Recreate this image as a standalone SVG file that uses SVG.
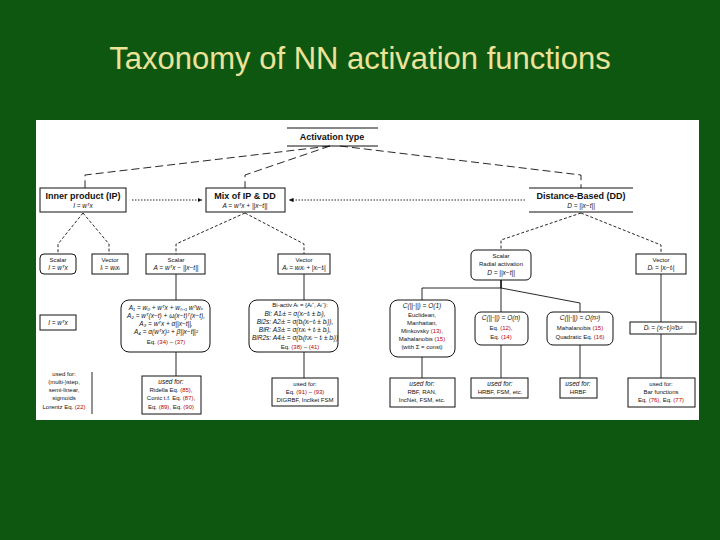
<svg xmlns="http://www.w3.org/2000/svg" width="720" height="540" viewBox="0 0 720 540">
<style>
text{font-family:"Liberation Sans",Arial,sans-serif;fill:#111;text-anchor:middle}
.t{font-size:31px;fill:#ece29a}
.h{font-size:9px;font-weight:bold}
.s{font-size:6px}
.m{font-size:6.5px;font-style:italic}
.b{fill:#fff;stroke:#111;stroke-width:1}
.c line,.c path{stroke:#111;fill:none;stroke-width:0.9}
.d{stroke-dasharray:8 4}
.f{stroke-dasharray:1.5 1.5}
.g{stroke-dasharray:3 2}
</style>
<defs><marker id="a" viewBox="0 0 6 6" refX="6" refY="3" markerWidth="5" markerHeight="5" orient="auto"><path d="M0,0L6,3L0,6z" fill="#111"/></marker></defs>
<rect width="720" height="540" fill="#0d5711"/>
<text class="t" x="360" y="69">Taxonomy of NN activation functions</text>
<rect x="36" y="120" width="663" height="300" fill="#fff"/>
<g class="c">
<path class="d" d="M330,146L85,175V188"/>
<path class="d" d="M330,146L245,175V188"/>
<path class="d" d="M340,146L581,175V188"/>
<line class="f" x1="132" y1="200" x2="202" y2="200" marker-end="url(#a)"/>
<line class="f" x1="525" y1="200" x2="289" y2="200" marker-end="url(#a)"/>
<path class="g" d="M83,213L58,244V254"/>
<path class="g" d="M83,213L109,244V254"/>
<path class="g" d="M245,213L176,244V254"/>
<path class="g" d="M245,213L304,244V254"/>
<path class="g" d="M581,213L501,240V250"/>
<path class="g" d="M581,213L661,245V254"/>
<line x1="176" y1="274" x2="176" y2="300"/><line x1="304" y1="274" x2="304" y2="300"/>
<line x1="176" y1="352" x2="176" y2="376"/><line x1="304" y1="352" x2="304" y2="378"/>
<path d="M501,280V288H422V300"/><path d="M501,280V288H501V312"/><path d="M501,280V288L580,303V312"/>
<line x1="661" y1="274" x2="661" y2="322"/><line x1="661" y1="334" x2="661" y2="378"/>
<line x1="422" y1="357" x2="422" y2="378"/><line x1="501" y1="345" x2="501" y2="378"/><line x1="580" y1="345" x2="580" y2="378"/>
<line x1="92" y1="372" x2="92" y2="414"/>
</g>
<g id="act"><line x1="287" y1="128" x2="378" y2="128" stroke="#111"/><line x1="287" y1="146" x2="378" y2="146" stroke="#111"/><text class="h" x="332" y="140">Activation type</text></g>
<g id="ip"><rect class="b" x="40" y="188" width="86" height="24"/><text class="h" x="83" y="199">Inner product (IP)</text><text class="m" x="83" y="208">I = wᵀx</text></g>
<g id="mix"><rect class="b" x="206" y="188" width="79" height="24"/><text class="h" x="245" y="199">Mix of IP &amp; DD</text><text class="m" x="245" y="208">A = wᵀx + ||x−t||</text></g>
<g id="dd"><line x1="529" y1="188" x2="633" y2="188" stroke="#111"/><line x1="529" y1="212" x2="633" y2="212" stroke="#111"/><text class="h" x="581" y="199">Distance-Based (DD)</text><text class="m" x="581" y="208">D = ||x−t||</text></g>
<g id="ips"><rect class="b" x="40" y="254" width="36" height="20" rx="4"/><text class="s" x="58" y="262">Scalar</text><text class="m" x="58" y="270">I = wᵀx</text></g>
<g id="ipv"><rect class="b" x="92" y="254" width="36" height="20"/><text class="s" x="110" y="262">Vector</text><text class="m" x="110" y="270">Iᵢ = wᵢxᵢ</text></g>
<g id="mxs"><rect class="b" x="146" y="254" width="59" height="20"/><text class="s" x="176" y="262">Scalar</text><text class="m" x="176" y="270">A = wᵀx − ||x−t||</text></g>
<g id="mxv"><rect class="b" x="278" y="254" width="52" height="20"/><text class="s" x="304" y="262">Vector</text><text class="m" x="304" y="270">Aᵢ = wᵢxᵢ + |xᵢ−tᵢ|</text></g>
<g id="dds"><rect class="b" x="471" y="250" width="60" height="30" rx="5"/><text class="s" x="501" y="258">Scalar</text><text class="s" x="501" y="266">Radial activation</text><text class="m" x="501" y="275">D = ||x−t||</text></g>
<g id="ddv"><rect class="b" x="636" y="254" width="50" height="20"/><text class="s" x="661" y="262">Vector</text><text class="m" x="661" y="270">Dᵢ = |xᵢ−tᵢ|</text></g>
<g id="ipi"><rect class="b" x="40" y="315" width="36" height="15"/><text class="m" x="58" y="325">I = wᵀx</text></g>
<g id="mxb"><rect class="b" x="121" y="300" width="89" height="52" rx="8"/>
<text class="m" x="166" y="310">A₁ = w₀ + wᵀx + wₙ₊₁ wᵀwₓ</text><text class="m" x="166" y="318">A₂ = wᵀ(x−t) + ω(x−t)ᵀ(x−t),</text><text class="m" x="166" y="326">A₃ = wᵀx + α||x−t||,</text><text class="m" x="166" y="334">A₄ = α(wᵀx)² + β||x−t||²</text><text class="s" x="166" y="344">Eq. <tspan fill="#b00">(34)</tspan> – <tspan fill="#b00">(37)</tspan></text></g>
<g id="bi"><rect class="b" x="249" y="300" width="89" height="52" rx="8"/>
<text class="s" x="300" y="307">Bi-activ  Aᵢ = {Aᵢ⁺, Aᵢ⁻}:</text><text class="m" x="295" y="316">Bi:  A1ᵢ± = σ(xᵢ−tᵢ ± bᵢ),</text><text class="m" x="295" y="324">Bi2s: A2ᵢ± = σ(bᵢ(xᵢ−tᵢ ± bᵢ)),</text><text class="m" x="295" y="332">BiR: A3ᵢ± = σ(rᵢxᵢ + tᵢ ± bᵢ),</text><text class="m" x="295" y="340">BiR2s: A4ᵢ± = σ(bᵢ(rᵢxᵢ − tᵢ ± bᵢ))</text><text class="s" x="300" y="349">Eq. <tspan fill="#b00">(38)</tspan> – <tspan fill="#b00">(41)</tspan></text></g>
<g id="dd1"><rect class="b" x="390" y="300" width="65" height="57" rx="8"/><text class="m" x="422" y="308">C(||·||) = O(1)</text><text class="s" x="422" y="317">Euclidean,</text><text class="s" x="422" y="325">Manhattan,</text><text class="s" x="422" y="333">Minkovsky <tspan fill="#b00">(13)</tspan>,</text><text class="s" x="422" y="341">Mahalanobis <tspan fill="#b00">(15)</tspan></text><text class="s" x="422" y="349">(with Σ = const)</text></g>
<g id="dd2"><rect class="b" x="475" y="312" width="53" height="33" rx="6"/><text class="m" x="501" y="320">C(||·||) = O(n)</text><text class="s" x="501" y="330">Eq. <tspan fill="#b00">(12)</tspan>,</text><text class="s" x="501" y="339">Eq. <tspan fill="#b00">(14)</tspan></text></g>
<g id="dd3"><rect class="b" x="547" y="312" width="66" height="33" rx="6"/><text class="m" x="580" y="320">C(||·||) = O(n²)</text><text class="s" x="580" y="330">Mahalanobis <tspan fill="#b00">(15)</tspan></text><text class="s" x="580" y="339">Quadratic Eq. <tspan fill="#b00">(16)</tspan></text></g>
<g id="dd4"><rect class="b" x="630" y="322" width="66" height="12"/><text class="m" x="663" y="330">Dᵢ = (xᵢ−tᵢ)²/bᵢ²</text></g>
<g id="u1"><text class="s" x="64" y="376">used for:</text><text class="s" x="64" y="384">(multi-)step,</text><text class="s" x="64" y="392">semi-linear,</text><text class="s" x="64" y="400">sigmoids</text><text class="s" x="64" y="409">Lorentz Eq. <tspan fill="#b00">(22)</tspan></text></g>
<g id="u2"><rect class="b" x="142" y="376" width="59" height="38"/><text class="m" x="171" y="384">used for:</text><text class="s" x="171" y="392">Ridella Eq. <tspan fill="#b00">(85)</tspan>,</text><text class="s" x="171" y="400">Conic t.f. Eq. <tspan fill="#b00">(87)</tspan>,</text><text class="s" x="171" y="409">Eq. <tspan fill="#b00">(89)</tspan>, Eq. <tspan fill="#b00">(90)</tspan></text></g>
<g id="u3"><rect class="b" x="272" y="378" width="66" height="28"/><text class="s" x="305" y="386">used for:</text><text class="s" x="305" y="394">Eq. <tspan fill="#b00">(91)</tspan> – <tspan fill="#b00">(93)</tspan></text><text class="s" x="305" y="402">DIGRBF, Inclket FSM</text></g>
<g id="u4"><rect class="b" x="390" y="378" width="65" height="29"/><text class="m" x="422" y="386">used for:</text><text class="s" x="422" y="394">RBF, RAN,</text><text class="s" x="422" y="402">IncNet, FSM, etc.</text></g>
<g id="u5"><rect class="b" x="471" y="378" width="57" height="20"/><text class="m" x="500" y="386">used for:</text><text class="s" x="500" y="394">HRBF, FSM, etc.</text></g>
<g id="u6"><rect class="b" x="560" y="378" width="37" height="20"/><text class="m" x="578" y="386">used for:</text><text class="s" x="578" y="394">HRBF</text></g>
<g id="u7"><rect class="b" x="628" y="378" width="67" height="29"/><text class="s" x="661" y="386">used for:</text><text class="s" x="661" y="394">Bar functions</text><text class="s" x="661" y="402">Eq. <tspan fill="#b00">(76)</tspan>, Eq. <tspan fill="#b00">(77)</tspan></text></g>
</svg>
